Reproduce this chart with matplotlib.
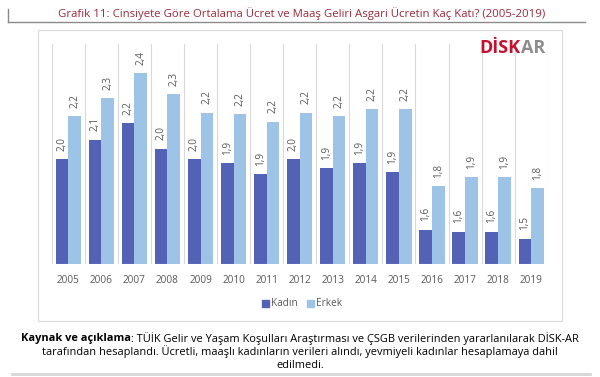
import numpy as np
import matplotlib
matplotlib.use('Agg')
import matplotlib.pyplot as plt
from matplotlib.patches import Rectangle, Patch
from matplotlib.lines import Line2D

plt.rcParams['font.family'] = ['Open Sans', 'DejaVu Sans']

# veriler
years = ['2005', '2006', '2007', '2008', '2009', '2010', '2011', '2012',
         '2013', '2014', '2015', '2016', '2017', '2018', '2019']
kadin = [1.96, 2.07, 2.16, 2.02, 1.96, 1.94, 1.88, 1.96,
         1.91, 1.94, 1.89, 1.57, 1.56, 1.56, 1.52]
erkek = [2.20, 2.30, 2.44, 2.32, 2.22, 2.21, 2.17, 2.22,
         2.20, 2.24, 2.24, 1.81, 1.86, 1.86, 1.80]
series_names = ['Kadın', 'Erkek']
colors = ['#5462b6', '#9dc3e6']

title = 'Grafik 11: Cinsiyete Göre Ortalama Ücret ve Maaş Geliri Asgari Ücretin Kaç Katı? (2005-2019)'
note_bold = 'Kaynak ve açıklama'
note_rest = ': TÜİK Gelir ve Yaşam Koşulları Araştırması ve ÇSGB verilerinden yararlanılarak DİSK-AR'
note_2 = 'tarafından hesaplandı. Ücretli, maaşlı kadınların verileri alındı, yevmiyeli kadınlar hesaplamaya dahil'
note_3 = 'edilmedi.'

W, H = 600, 377


def fx(x):
    return x / W


def fy(y):
    return 1 - y / H


fig = plt.figure(figsize=(6, 3.77), dpi=100)
r = fig.canvas.get_renderer()

# başlık ve çizgiler
fig.text(fx(302), fy(14), title, ha='center', va='center', fontsize=8.2, color='#9b2a3a')
fig.add_artist(Line2D([fx(8), fx(585)], [fy(22), fy(22)], color='#8a8a8a', lw=1))
fig.add_artist(Line2D([fx(8), fx(8)], [fy(9), fy(22)], color='#8a8a8a', lw=1))

# grafik çerçevesi (eksenin arkasında kalsın)
fig.add_artist(Rectangle((fx(37.5), fy(321)), fx(562) - fx(37.5), fy(30) - fy(321),
                         facecolor='white', edgecolor='#d9d9d9', lw=0.8, zorder=-1))

ax = fig.add_axes([fx(51.7), fy(264), fx(547.7) - fx(51.7), fy(44) - fy(264)])
ax.set_zorder(2)
x = np.arange(len(years))
w = 0.383
ymin, ymax = 1.38, 2.60
b1 = ax.bar(x - w / 2, np.array(kadin) - ymin, w, bottom=ymin, color=colors[0], zorder=3)
b2 = ax.bar(x + w / 2, np.array(erkek) - ymin, w, bottom=ymin, color=colors[1], zorder=3)

for bars, vals in [(b1, kadin), (b2, erkek)]:
    for rect, v in zip(bars, vals):
        ax.annotate('{:.1f}'.format(v).replace('.', ','),
                    (rect.get_x() + rect.get_width() / 2, v),
                    xytext=(0, 6), textcoords='offset points',
                    rotation=90, ha='center', va='bottom', fontsize=7.2, color='#595959')

for b in np.arange(-0.5, len(years), 1):
    ax.axvline(b, color='#d9d9d9', lw=0.8, zorder=1)
ax.axhline(ymin, color='#d9d9d9', lw=0.8, zorder=4)

ax.set_xlim(-0.5, len(years) - 0.5)
ax.set_ylim(ymin, ymax)
ax.set_xticks(x)
ax.set_xticklabels(years, fontsize=7.2, color='#595959')
ax.tick_params(axis='x', length=0, pad=8)
ax.set_yticks([])
for s in ax.spines.values():
    s.set_visible(False)
ax.patch.set_alpha(0)

handles = [Patch(color=c) for c in colors]
fig.legend(handles, series_names, loc='center', bbox_to_anchor=(fx(302), fy(304)),
           ncol=2, frameon=False, fontsize=7.2, handlelength=0.7, handleheight=0.7,
           handletextpad=0.2, columnspacing=1.0, labelcolor='#595959')

# logo
l1 = fig.text(fx(479), fy(48), 'DİSK', ha='left', va='center', fontsize=13,
              fontweight='bold', color='#c8102e')
lw1 = l1.get_window_extent(r).width
fig.text(fx(479 + lw1 + 1), fy(48), 'AR', ha='left', va='center', fontsize=13,
         fontweight='bold', color='#8c8c8c')

# açıklama, ilk satırın kalın kısmı ayrı yazılıyor
fs = 7.9
t1 = fig.text(0, fy(339), note_bold, ha='left', va='center', fontsize=fs, fontweight='bold')
t2 = fig.text(0, fy(339), note_rest, ha='left', va='center', fontsize=fs)
w1 = t1.get_window_extent(r).width
w2 = t2.get_window_extent(r).width
x0 = (W - w1 - w2) / 2
t1.set_x(x0 / W)
t2.set_x((x0 + w1) / W)
fig.text(0.5, fy(352), note_2, ha='center', va='center', fontsize=fs)
fig.text(0.5, fy(365), note_3, ha='center', va='center', fontsize=fs)
fig.add_artist(Line2D([fx(12), fx(590)], [fy(374), fy(374)], color='#d6d6d6', lw=2))

plt.savefig('out.png', dpi=100)
